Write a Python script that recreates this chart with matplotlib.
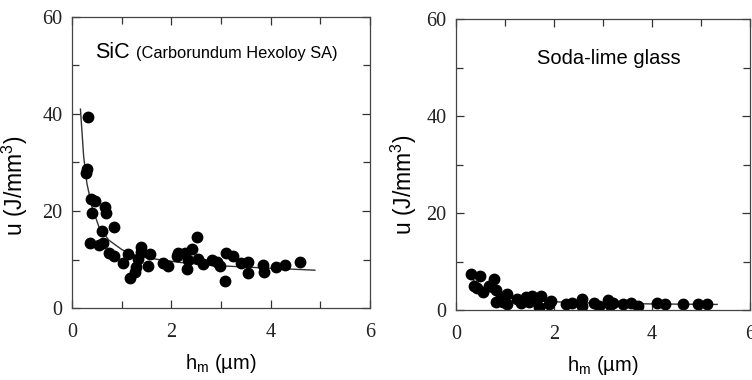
import matplotlib
matplotlib.use("Agg")
import matplotlib.pyplot as plt
from matplotlib.ticker import MultipleLocator

# SiC (Carborundum Hexoloy SA) - measured points
sic_h = [0.33, 0.30, 0.28, 0.38, 0.46, 0.41, 0.66, 0.68, 0.60, 0.85,
         0.36, 0.55, 0.63, 0.75, 0.85, 1.03, 1.13, 1.17, 1.29, 1.27,
         1.33, 1.38, 1.38, 1.54, 1.58, 1.84, 1.94, 2.11, 2.14, 2.27,
         2.34, 2.32, 2.41, 2.51, 2.54, 2.64, 2.81, 2.91, 2.98, 3.08,
         3.11, 3.25, 3.41, 3.55, 3.55, 3.85, 3.86, 4.10, 4.29, 4.60]
sic_u = [39.3, 28.6, 27.8, 22.5, 22.1, 19.5, 20.9, 19.5, 15.9, 16.8,
         13.5, 13.0, 13.3, 11.3, 10.8, 9.3, 11.1, 6.1, 8.5, 7.5,
         10.2, 12.6, 11.6, 8.7, 11.1, 9.2, 8.7, 10.7, 11.3, 11.4,
         9.9, 8.0, 12.1, 14.7, 10.2, 9.1, 10.0, 9.5, 8.7, 5.6,
         11.4, 10.7, 9.2, 9.5, 7.3, 8.9, 7.5, 8.5, 8.9, 9.4]
# SiC fitted curve
sic_fit_h = [0.17, 0.235, 0.30, 0.40, 0.54, 0.74, 1.01, 1.34, 1.74, 2.17, 2.8, 3.78, 4.89]
sic_fit_u = [41.0, 31.2, 25.7, 20.9, 16.8, 14.0, 12.0, 10.6, 10.0, 9.4, 8.8, 8.3, 7.8]

# Soda-lime glass - measured points
glass_h = [0.30, 0.37, 0.48, 0.42, 0.55, 0.67, 0.77, 0.82, 0.82, 0.92,
           1.04, 1.04, 0.96, 1.24, 1.33, 1.43, 1.48, 1.56, 1.62, 1.70,
           1.73, 1.89, 1.93, 2.24, 2.37, 2.57, 2.57, 2.82, 2.91, 3.10,
           3.15, 3.21, 3.40, 3.58, 3.72, 4.11, 4.27, 4.63, 4.93, 5.13]
glass_u = [7.5, 4.9, 7.0, 4.5, 3.8, 4.9, 6.3, 4.1, 1.7, 2.7,
           3.3, 1.2, 1.7, 2.3, 1.4, 2.6, 1.7, 2.9, 2.1, 0.7,
           2.9, 1.2, 1.9, 1.2, 1.4, 2.3, 0.9, 1.4, 0.9, 2.1,
           1.0, 1.4, 1.2, 1.4, 0.9, 1.4, 1.2, 1.2, 1.2, 1.2]
glass_fit_h = [0.25, 0.4, 0.6, 0.8, 1.0, 1.3, 1.6, 2.0, 2.5, 3.0, 4.0, 5.33]
glass_fit_u = [7.5, 5.6, 4.2, 3.3, 2.7, 2.2, 1.9, 1.7, 1.5, 1.4, 1.25, 1.15]

plt.rcParams["mathtext.default"] = "regular"
fig = plt.figure(figsize=(7.52, 3.8), dpi=100)
ax1 = fig.add_axes([72/752, 72/380, 298/752, 291/380])
ax2 = fig.add_axes([456/752, 70/380, 294/752, 291/380])

sans = "Liberation Sans"
serif = "Liberation Serif"


def setup(ax, ylab_x, ylab_y):
    ax.set_xlim(0, 6)
    ax.set_ylim(0, 60)
    ax.xaxis.set_major_locator(MultipleLocator(2))
    ax.xaxis.set_minor_locator(MultipleLocator(1))
    ax.yaxis.set_major_locator(MultipleLocator(20))
    ax.yaxis.set_minor_locator(MultipleLocator(10))
    ax.tick_params(which="both", direction="in", top=True, right=True, color="#333333")
    ax.tick_params(which="major", length=6, width=0.9)
    ax.tick_params(which="minor", length=5, width=0.9)
    ax.tick_params(axis="x", pad=11)
    ax.tick_params(axis="y", pad=7)
    for lab in ax.get_xticklabels() + ax.get_yticklabels():
        lab.set_family(serif)
        lab.set_fontsize(14.5)
        lab.set_color("#222222")
    for sp in ax.spines.values():
        sp.set_linewidth(0.9)
        sp.set_color("#444444")
    ax.set_xlabel("h$_{m}$ (µm)", fontfamily=sans, fontsize=14.5, labelpad=7)
    ax.set_ylabel("u (J/mm$^{3}$)", fontfamily=sans, fontsize=16.5)
    ax.yaxis.set_label_coords(ylab_x, ylab_y)


setup(ax1, -0.14, 0.42)
ax1.plot(sic_fit_h, sic_fit_u, color="#333333", lw=1.0)
ax1.plot(sic_h, sic_u, "o", color="black", ms=7.5, mec="black")
ax1.text(0.46, 51.5, "SiC", fontfamily=sans, fontsize=15.5, va="baseline", ha="left")
ax1.text(1.29, 51.5, "(Carborundum Hexoloy SA)", fontfamily=sans, fontsize=11.8,
         va="baseline", ha="left")

setup(ax2, -0.125, 0.43)
ax2.plot(glass_fit_h, glass_fit_u, color="#333333", lw=1.0)
ax2.plot(glass_h, glass_u, "o", color="black", ms=7.5, mec="black")
ax2.text(3.11, 50.8, "Soda-lime glass", fontfamily=sans, fontsize=14.5, va="baseline", ha="center")

fig.savefig("out.png", dpi=100)
